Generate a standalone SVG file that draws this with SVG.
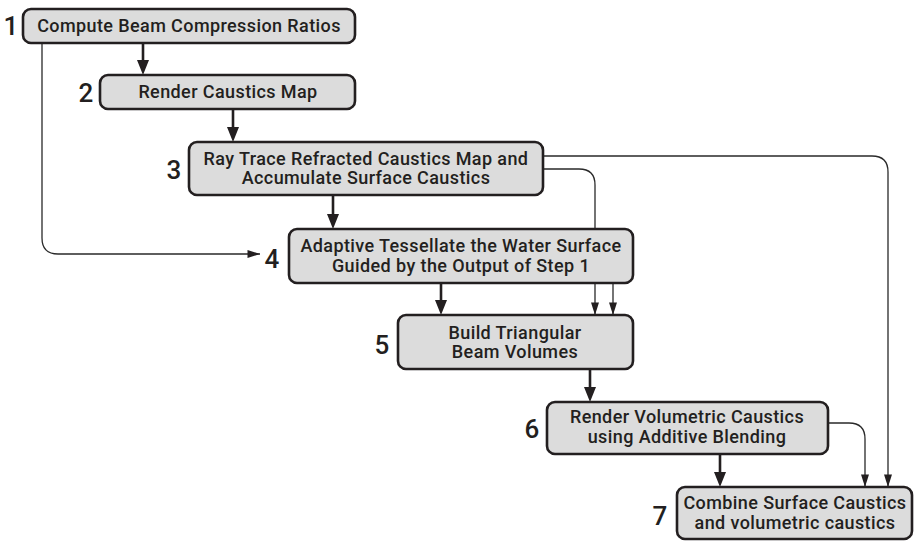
<svg xmlns="http://www.w3.org/2000/svg" width="915" height="541" viewBox="0 0 915 541">
<defs>
<marker id="as" markerUnits="userSpaceOnUse" markerWidth="10" markerHeight="14" refX="5" refY="13" viewBox="0 0 10 14"><path d="M1,0.5 L9,0.5 L5,13 Z" fill="#231f20"/></marker>
<marker id="ar" markerUnits="userSpaceOnUse" markerWidth="14" markerHeight="10" refX="13" refY="5" viewBox="0 0 14 10"><path d="M0.5,1 L0.5,9 L13,5 Z" fill="#231f20"/></marker>
</defs>
<style>
.box{fill:#dcdcdc;stroke:#231f20;stroke-width:2.6}
.t{font-family:Roboto,"Liberation Sans",sans-serif;font-size:18px;font-weight:500;letter-spacing:0.4px;fill:#231f20;text-anchor:middle}
.n{font-family:Roboto,"Liberation Sans",sans-serif;font-size:26px;font-weight:500;fill:#231f20;text-anchor:middle}
.thick{fill:none;stroke:#231f20;stroke-width:2.6}
.thin{fill:none;stroke:#2a2a2a;stroke-width:1.3}
.hd{fill:#231f20}
</style>
<rect width="915" height="541" fill="#ffffff"/>
<g id="connectors">
<path class="thick" d="M143,43 V60"/>
<path class="hd" d="M137,60 H149 L143,75 Z"/>
<path class="thick" d="M233,109 V127"/>
<path class="hd" d="M227,127 H239 L233,142 Z"/>
<path class="thick" d="M333,195 V214"/>
<path class="hd" d="M327,214 H339 L333,229 Z"/>
<path class="thick" d="M441,283 V300"/>
<path class="hd" d="M435,300 H447 L441,315 Z"/>
<path class="thick" d="M590,369 V387"/>
<path class="hd" d="M584,387 H596 L590,402 Z"/>
<path class="thick" d="M720,454 V472"/>
<path class="hd" d="M714,472 H726 L720,487 Z"/>
<path class="thin" d="M42,43 V238 Q42,254 58,254 H260" marker-end="url(#ar)"/>
<path class="thin" d="M543,169 H579 Q595,169 595,185 V315" marker-end="url(#as)"/>
<path class="thin" d="M613,283 V315" marker-end="url(#as)"/>
<path class="thin" d="M543,156 H872 Q888,156 888,172 V487" marker-end="url(#as)"/>
<path class="thin" d="M828,423 H849 Q865,423 865,439 V487" marker-end="url(#as)"/>
</g>
<g id="node1">
<rect class="box" x="23" y="9" width="332" height="34" rx="8"/>
<text class="t" x="189" y="32">Compute Beam Compression Ratios</text>
<text class="n" x="11" y="35">1</text>
</g>
<g id="node2">
<rect class="box" x="100" y="75" width="255" height="34" rx="8"/>
<text class="t" x="228" y="98">Render Caustics Map</text>
<text class="n" x="86" y="102">2</text>
</g>
<g id="node3">
<rect class="box" x="189" y="142" width="354" height="53" rx="8"/>
<text class="t" x="366" y="165">Ray Trace Refracted Caustics Map and</text>
<text class="t" x="366" y="184">Accumulate Surface Caustics</text>
<text class="n" x="174" y="179">3</text>
</g>
<g id="node4">
<rect class="box" x="289" y="229" width="344" height="54" rx="8"/>
<text class="t" x="461" y="252">Adaptive Tessellate the Water Surface</text>
<text class="t" x="461" y="272">Guided by the Output of Step 1</text>
<text class="n" x="272" y="268">4</text>
</g>
<g id="node5">
<rect class="box" x="398" y="315" width="235" height="54" rx="8"/>
<text class="t" x="515" y="339">Build Triangular</text>
<text class="t" x="515" y="358">Beam Volumes</text>
<text class="n" x="382" y="354">5</text>
</g>
<g id="node6">
<rect class="box" x="547" y="402" width="281" height="52" rx="8"/>
<text class="t" x="687" y="423">Render Volumetric Caustics</text>
<text class="t" x="687" y="443">using Additive Blending</text>
<text class="n" x="532" y="438">6</text>
</g>
<g id="node7">
<rect class="box" x="677" y="487" width="235" height="52" rx="8"/>
<text class="t" x="795" y="509">Combine Surface Caustics</text>
<text class="t" x="795" y="529">and volumetric caustics</text>
<text class="n" x="660" y="525">7</text>
</g>
</svg>
